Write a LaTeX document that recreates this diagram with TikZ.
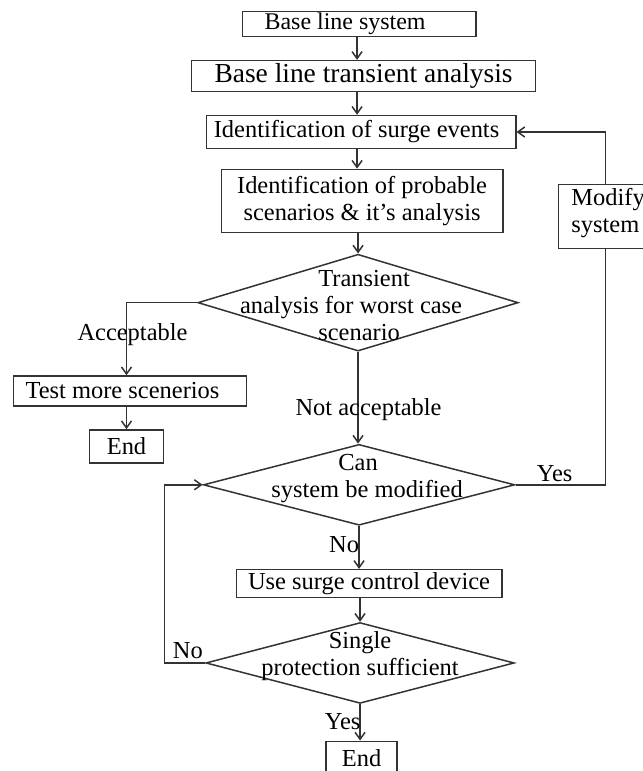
\documentclass[tikz,border=0pt]{standalone}
\usepackage{fontspec}
\setmainfont{Liberation Serif}
\usetikzlibrary{shapes.geometric,arrows.meta,calc}
\begin{document}
\begin{tikzpicture}[x=1pt,y=-1pt,
  line width=1.5pt,
  every path/.style={draw=black!80},
  box/.style={draw=black!80, rectangle, inner sep=0pt, line width=1.5pt,
    font=\fontsize{24.5}{27.5}\selectfont, text=black, align=center},
  dia/.style={draw=black!80, diamond, inner sep=0pt, line width=1.5pt},
  txt/.style={font=\fontsize{24.5}{27}\selectfont, inner sep=0pt, align=center, text=black},
  arr/.style={-{Straight Barb[length=7pt,width=10pt]}}]
\useasboundingbox (0,0) rectangle (642,771);
\fill[white] (0,0) rectangle (642,771);
% boxes
\node[box, minimum width=234pt, minimum height=25pt, font=\fontsize{24}{26}\selectfont] (b1) at (359,23.5) {Base line system\hspace*{28pt}};
\node[box, minimum width=345pt, minimum height=31pt, font=\fontsize{27.5}{30}\selectfont] (b2) at (363.5,75.5) {Base line transient analysis};
\node[box, minimum width=310pt, minimum height=33pt] (b3) at (361,131.5) {Identification of surge events\hspace*{9pt}};
\node[box, minimum width=282pt, minimum height=63pt] (b4) at (362,200.5) {Identification of probable\\scenarios \& it’s analysis};
\node[box, minimum width=94pt, minimum height=64pt] (mod) at (606,216) {};
\node[txt, align=left, anchor=west] (modt) at (571,213) {Modify\\system};
\node[dia, minimum width=321pt, minimum height=97pt] (d1) at (358,302.5) {};
\node[txt] (d1t) at (351,305) {\hspace*{26pt}Transient\\analysis for worst case\\\hspace*{16pt}scenario};
\node[box, minimum width=233pt, minimum height=30pt] (tb) at (129.5,391) {Test more scenerios\hspace*{15pt}};
\node[box, minimum width=74pt, minimum height=33pt] (e1) at (126,446.5) {End};
\node[dia, minimum width=312pt, minimum height=81pt] (d2) at (359,485) {};
\node[txt] (d2t) at (367,478.5) {Can\hspace*{18pt}\\system be modified};
\node[box, minimum width=266pt, minimum height=28pt] (use) at (369,584) {Use surge control device};
\node[dia, minimum width=309pt, minimum height=81pt] (d3) at (360,663.5) {};
\node[txt] (d3t) at (360,656.5) {Single\\protection sufficient};
\node[box, minimum width=71pt, minimum height=34pt] (e2) at (361.5,759) {End};
% connectors
\coordinate (sp) at (357,0);
\coordinate (lp) at (164,0);
\draw[arr] (b1.south -| sp) -- (b2.north -| sp);
\draw[arr] (b2.south -| sp) -- (b3.north -| sp);
\draw[arr] (b3.south -| sp) -- (b4.north -| sp);
\draw[arr] (b4.south -| d1.north) -- (d1.north);
\draw[arr] (d1.south) -- (d1.south |- d2.north);
\draw[arr] (d2.south) -- (d2.south |- use.north);
\draw[arr] (use.south -| d3.north) -- (d3.north);
\draw[arr] (d3.south) -- (d3.south |- e2.north);
\draw[arr] (d1.west) -| (e1.north |- tb.north);
\draw[arr] (e1.north |- tb.south) -- (e1.north);
\draw (d2.east) -| (mod.south);
\draw[arr] (mod.north) |- (b3.east);
\draw[arr] (d3.west) -| (lp |- d2.west) -- (d2.west);
% labels
\node[txt] (lacc) at (132,335) {Acceptable};
\node[txt] (lnot) at (368.5,410) {Not acceptable};
\node[txt] (lyes1) at (555,474) {Yes};
\node[txt] (lno1) at (344,545) {No};
\node[txt] (lno2) at (187.5,651) {No};
\node[txt] (lyes2) at (342.5,722) {Yes};
\end{tikzpicture}
\end{document}
